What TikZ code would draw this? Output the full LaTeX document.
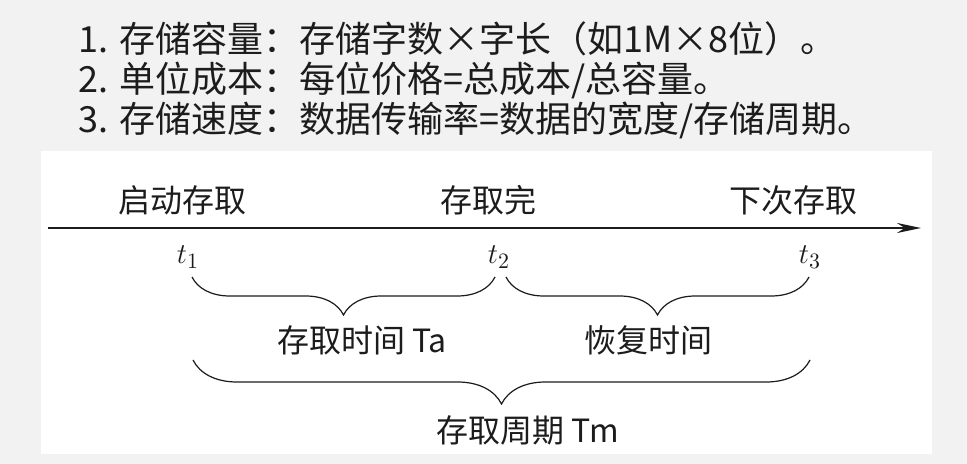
\documentclass[tikz,border=0pt]{standalone}
\usepackage{fontspec}
\newfontfamily\cjk{Noto Sans CJK SC}
\usepackage{xcolor}
\definecolor{slidegray}{RGB}{242,242,242}
\definecolor{inkblack}{RGB}{28,28,28}
\usetikzlibrary{positioning,arrows.meta,decorations.pathreplacing,calc}
\tikzset{
  pointline/.style={
    anchor=west, inner sep=0pt, text=inkblack,
    font=\cjk\fontsize{18}{20}\selectfont
  },
  eventlabel/.style={
    inner sep=0pt, text=inkblack,
    font=\cjk\fontsize{16}{18}\selectfont
  },
  instant/.style={
    inner sep=0pt, text=inkblack, font=\fontsize{15}{17}\selectfont
  },
  timeaxis/.style={-{Stealth[length=12pt, width=5pt]}, line width=1.2pt, draw=inkblack},
  timebrace/.style={
    decorate, decoration={brace, mirror, amplitude=#1},
    line width=0.6pt, draw=inkblack
  },
}

\begin{document}
\begin{tikzpicture}[x=0.5pt, y=-0.5pt]

  \useasboundingbox (0,0) rectangle (967,464);
  \fill[slidegray] (0,0) rectangle (967,464);
  \fill[white] (41,151) rectangle (932,454);

  % the three definitions above the timing chart
  \node[pointline] (capacity) at (78,39) {1. 存储容量：存储字数×字长（如1M×8位）。};
  \node[pointline] (cost) at (78,80) {2. 单位成本：每位价格=总成本/总容量。};
  \node[pointline] (speed) at (78,120) {3. 存储速度：数据传输率=数据的宽度/存储周期。};

  % time axis
  \coordinate (axisstart) at (48,228);
  \coordinate (axisend) at (921,228);
  \draw[timeaxis] (axisstart) -- (axisend);

  \node[eventlabel] (begin) at (182,200) {启动存取};
  \node[eventlabel] (done) at (488,200) {存取完};
  \node[eventlabel] (next) at (793,200) {下次存取};

  \node[instant] (t1) at (188,257) {$t_1$};
  \node[instant] (t2) at (499,257) {$t_2$};
  \node[instant] (t3) at (810,257) {$t_3$};

  % braces under the instants
  \coordinate (accessL) at (192,277);
  \coordinate (accessR) at (495,277);
  \coordinate (recoverL) at (506,277);
  \coordinate (recoverR) at (809,277);
  \coordinate (cycleL) at (193,360);
  \coordinate (cycleR) at (810,360);

  \draw[timebrace=19pt] (accessL) -- (accessR);
  \draw[timebrace=19pt] (recoverL) -- (recoverR);
  \draw[timebrace=22pt] (cycleL) -- (cycleR);

  \node[eventlabel] (accesstime) at (362,340) {存取时间 Ta};
  \node[eventlabel] (recovertime) at (648,340) {恢复时间};
  \node[eventlabel] (cycletime) at (528,430) {存取周期 Tm};

\end{tikzpicture}
\end{document}
